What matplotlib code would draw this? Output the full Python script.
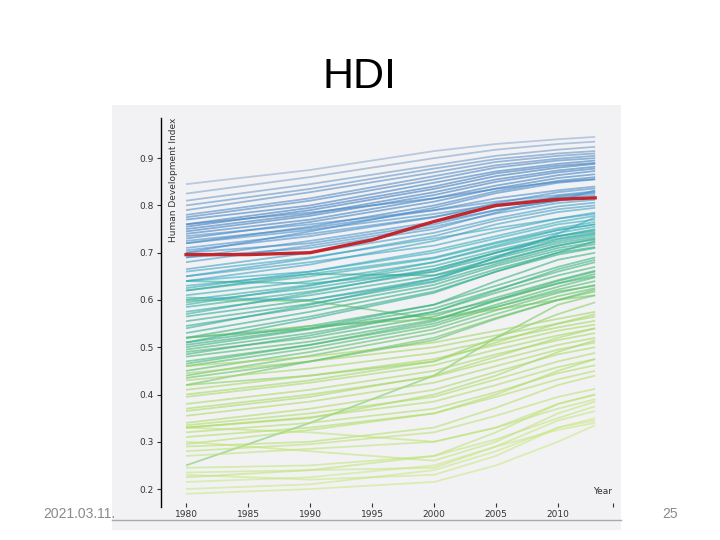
import matplotlib
matplotlib.use("Agg")
import matplotlib.pyplot as plt
import numpy as np
from matplotlib.colors import LinearSegmentedColormap
from matplotlib.patches import Rectangle

# Years sampled for every country line
years = [1980, 1990, 2000, 2005, 2010, 2013]

# HDI values, one entry per country line
hdi_1980 = [0.845, 0.825, 0.810, 0.800, 0.790, 0.780, 0.775, 0.770, 0.760, 0.755, 0.750, 0.745, 0.740, 0.730, 0.720, 0.700,
            0.735, 0.720, 0.710, 0.690, 0.680, 0.665, 0.650, 0.640, 0.700, 0.660,
            0.640, 0.630, 0.620, 0.610, 0.600, 0.595, 0.585, 0.575, 0.565, 0.555, 0.545, 0.530, 0.520, 0.605, 0.620,
            0.510, 0.500, 0.495, 0.490, 0.480, 0.470, 0.460, 0.450, 0.440, 0.420, 0.600, 0.250, 0.420, 0.520,
            0.460, 0.445, 0.430, 0.410, 0.395, 0.380, 0.370, 0.355, 0.340, 0.335, 0.330, 0.320, 0.295, 0.290,
            0.280, 0.270, 0.245, 0.235, 0.230, 0.215, 0.200, 0.190, 0.300, 0.330,
            0.760, 0.725, 0.705, 0.690, 0.650, 0.625, 0.590, 0.570, 0.540, 0.510, 0.640,
            0.505, 0.485, 0.465, 0.435, 0.520, 0.400, 0.365, 0.330, 0.310, 0.225]
hdi_1990 = [0.875, 0.860, 0.845, 0.835, 0.828, 0.815, 0.810, 0.800, 0.795, 0.790, 0.782, 0.778, 0.770, 0.765, 0.755, 0.745,
            0.760, 0.748, 0.740, 0.725, 0.715, 0.700, 0.688, 0.675, 0.720, 0.690,
            0.660, 0.655, 0.650, 0.640, 0.632, 0.625, 0.618, 0.610, 0.600, 0.592, 0.585, 0.575, 0.565, 0.600, 0.655,
            0.545, 0.538, 0.530, 0.520, 0.512, 0.505, 0.498, 0.490, 0.482, 0.470, 0.598, 0.340, 0.440, 0.545,
            0.480, 0.470, 0.455, 0.440, 0.425, 0.410, 0.400, 0.385, 0.370, 0.360, 0.352, 0.340, 0.325, 0.300,
            0.295, 0.285, 0.250, 0.240, 0.220, 0.225, 0.210, 0.200, 0.280, 0.320,
            0.785, 0.752, 0.735, 0.710, 0.680, 0.660, 0.630, 0.615, 0.590, 0.560, 0.635,
            0.540, 0.525, 0.505, 0.470, 0.540, 0.430, 0.395, 0.350, 0.330, 0.240]
hdi_2000 = [0.915, 0.900, 0.885, 0.878, 0.870, 0.862, 0.855, 0.848, 0.840, 0.835, 0.828, 0.822, 0.815, 0.808, 0.800, 0.795,
            0.790, 0.782, 0.776, 0.765, 0.755, 0.742, 0.735, 0.725, 0.760, 0.730,
            0.700, 0.690, 0.688, 0.680, 0.672, 0.665, 0.660, 0.652, 0.645, 0.638, 0.632, 0.625, 0.618, 0.640, 0.652,
            0.590, 0.582, 0.575, 0.565, 0.558, 0.550, 0.545, 0.538, 0.530, 0.520, 0.560, 0.440, 0.470, 0.560,
            0.510, 0.500, 0.488, 0.475, 0.462, 0.450, 0.438, 0.425, 0.410, 0.395, 0.385, 0.370, 0.360, 0.330,
            0.320, 0.300, 0.270, 0.245, 0.230, 0.250, 0.240, 0.215, 0.260, 0.300,
            0.815, 0.790, 0.775, 0.750, 0.715, 0.705, 0.680, 0.665, 0.645, 0.615, 0.660,
            0.590, 0.575, 0.555, 0.515, 0.570, 0.470, 0.440, 0.400, 0.360, 0.270]
hdi_2005 = [0.930, 0.918, 0.905, 0.898, 0.892, 0.885, 0.880, 0.872, 0.868, 0.862, 0.855, 0.850, 0.842, 0.836, 0.830, 0.826,
            0.808, 0.802, 0.798, 0.790, 0.783, 0.773, 0.768, 0.760, 0.790, 0.752,
            0.730, 0.722, 0.720, 0.712, 0.705, 0.700, 0.693, 0.688, 0.682, 0.676, 0.672, 0.665, 0.660, 0.690, 0.680,
            0.630, 0.622, 0.615, 0.605, 0.598, 0.590, 0.585, 0.578, 0.570, 0.562, 0.585, 0.520, 0.520, 0.580,
            0.535, 0.525, 0.515, 0.505, 0.495, 0.485, 0.472, 0.460, 0.448, 0.432, 0.420, 0.405, 0.395, 0.372,
            0.355, 0.330, 0.305, 0.290, 0.270, 0.290, 0.280, 0.250, 0.300, 0.330,
            0.835, 0.815, 0.805, 0.785, 0.745, 0.735, 0.715, 0.700, 0.690, 0.660, 0.700,
            0.640, 0.620, 0.600, 0.560, 0.600, 0.510, 0.480, 0.440, 0.400, 0.320]
hdi_2010 = [0.940, 0.930, 0.918, 0.910, 0.905, 0.899, 0.895, 0.888, 0.884, 0.880, 0.874, 0.870, 0.864, 0.858, 0.852, 0.848,
            0.822, 0.818, 0.815, 0.810, 0.805, 0.798, 0.792, 0.786, 0.810, 0.772,
            0.760, 0.752, 0.748, 0.742, 0.735, 0.730, 0.724, 0.720, 0.715, 0.710, 0.705, 0.700, 0.696, 0.740, 0.715,
            0.670, 0.660, 0.652, 0.642, 0.635, 0.628, 0.622, 0.615, 0.608, 0.600, 0.618, 0.590, 0.570, 0.600,
            0.560, 0.550, 0.542, 0.535, 0.525, 0.515, 0.505, 0.495, 0.485, 0.470, 0.458, 0.445, 0.432, 0.420,
            0.395, 0.370, 0.350, 0.345, 0.330, 0.325, 0.330, 0.300, 0.360, 0.380,
            0.850, 0.832, 0.828, 0.820, 0.772, 0.765, 0.748, 0.735, 0.728, 0.700, 0.735,
            0.685, 0.665, 0.640, 0.600, 0.635, 0.550, 0.520, 0.490, 0.450, 0.380]
hdi_2013 = [0.945, 0.935, 0.924, 0.915, 0.910, 0.905, 0.900, 0.895, 0.890, 0.888, 0.882, 0.878, 0.873, 0.866, 0.860, 0.855,
            0.830, 0.826, 0.822, 0.818, 0.812, 0.806, 0.800, 0.795, 0.832, 0.782,
            0.770, 0.765, 0.760, 0.755, 0.748, 0.742, 0.737, 0.733, 0.728, 0.722, 0.718, 0.712, 0.710, 0.775, 0.730,
            0.690, 0.680, 0.670, 0.662, 0.655, 0.648, 0.640, 0.632, 0.625, 0.618, 0.630, 0.610, 0.595, 0.610,
            0.575, 0.565, 0.556, 0.548, 0.540, 0.530, 0.520, 0.510, 0.500, 0.488, 0.475, 0.462, 0.450, 0.440,
            0.412, 0.390, 0.375, 0.365, 0.350, 0.340, 0.345, 0.335, 0.385, 0.400,
            0.856, 0.840, 0.836, 0.828, 0.785, 0.778, 0.760, 0.750, 0.740, 0.725, 0.745,
            0.700, 0.685, 0.660, 0.622, 0.650, 0.570, 0.540, 0.515, 0.475, 0.400]

# Highlighted (red) line, sampled every five years
world_years = [1980, 1985, 1990, 1995, 2000, 2005, 2010, 2013]
world_hdi = [0.696, 0.696, 0.700, 0.727, 0.766, 0.800, 0.813, 0.816]

series = np.array([hdi_1980, hdi_1990, hdi_2000, hdi_2005, hdi_2010, hdi_2013]).T

# colour by final HDI value
stops = [0.33, 0.45, 0.58, 0.64, 0.72, 0.77, 0.83, 0.89, 0.95]
stop_colors = ["#cde98a", "#b4e06a", "#a2d862", "#4cbb6e", "#2fae8a", "#37afc0", "#4f92cc", "#3a7cc0", "#9ab4d0"]
cmap = LinearSegmentedColormap.from_list(
    "hdi", [((s - stops[0]) / (stops[-1] - stops[0]), c) for s, c in zip(stops, stop_colors)])

fig = plt.figure(figsize=(7.2, 5.4), dpi=100)
fig.patch.set_facecolor("white")

# grey panel of the embedded chart
fig.add_artist(Rectangle((112 / 720, 1 - 530 / 540), 509 / 720, 425 / 540,
                         transform=fig.transFigure, facecolor="#f2f2f4", edgecolor="none", zorder=0))
fig.add_artist(plt.Line2D([112 / 720, 621 / 720], [1 - 520 / 540, 1 - 520 / 540],
                          transform=fig.transFigure, color="#a8a8a8", lw=1.0, zorder=1))

ax = fig.add_axes([161 / 720, 1 - 507 / 540, 454 / 720, 389 / 540])
ax.set_facecolor("none")

for row in series:
    c = cmap((row[-1] - stops[0]) / (stops[-1] - stops[0]))
    ax.plot(years, row, color=c, lw=1.3, alpha=0.6, solid_capstyle="butt")

ax.plot(world_years, world_hdi, color="#c1272d", lw=2.4)

ax.set_xlim(1977.98, 2014.6)
ax.set_ylim(0.162, 0.985)

ax.set_xticks([1980, 1985, 1990, 1995, 2000, 2005, 2010, 2014.4])
ax.set_xticklabels(["1980", "1985", "1990", "1995", "2000", "2005", "2010", ""])
ax.set_yticks([0.2, 0.3, 0.4, 0.5, 0.6, 0.7, 0.8, 0.9])
ax.set_yticklabels(["0.2", "0.3", "0.4", "0.5", "0.6", "0.7", "0.8", "0.9"])
ax.tick_params(axis="x", direction="in", length=3, width=0.8, pad=2, labelsize=6.5, colors="#333333")
ax.tick_params(axis="y", direction="out", length=3, width=0.8, pad=2, labelsize=6.5, colors="#333333")

for s in ["top", "right", "bottom"]:
    ax.spines[s].set_visible(False)
ax.spines["left"].set_color("black")
ax.spines["left"].set_linewidth(1.0)

ax.text(2014.4, 0.185, "Year", ha="right", va="bottom", fontsize=6.5, color="#333333")
ax.text(0.028, 1.0, "Human Development Index", transform=ax.transAxes, rotation=90,
        ha="center", va="top", fontsize=6.5, color="#333333")

fig.text(0.5, 1 - 77 / 540, "HDI", ha="center", va="center", fontsize=31, family="Liberation Sans")
fig.text(43 / 720, 1 - 514 / 540, "2021.03.11.", ha="left", va="center", fontsize=10,
         color="#8a8a8a", family="Liberation Sans")
fig.text(678 / 720, 1 - 514 / 540, "25", ha="right", va="center", fontsize=10,
         color="#8a8a8a", family="Liberation Sans")

fig.savefig("out.png", dpi=100)
